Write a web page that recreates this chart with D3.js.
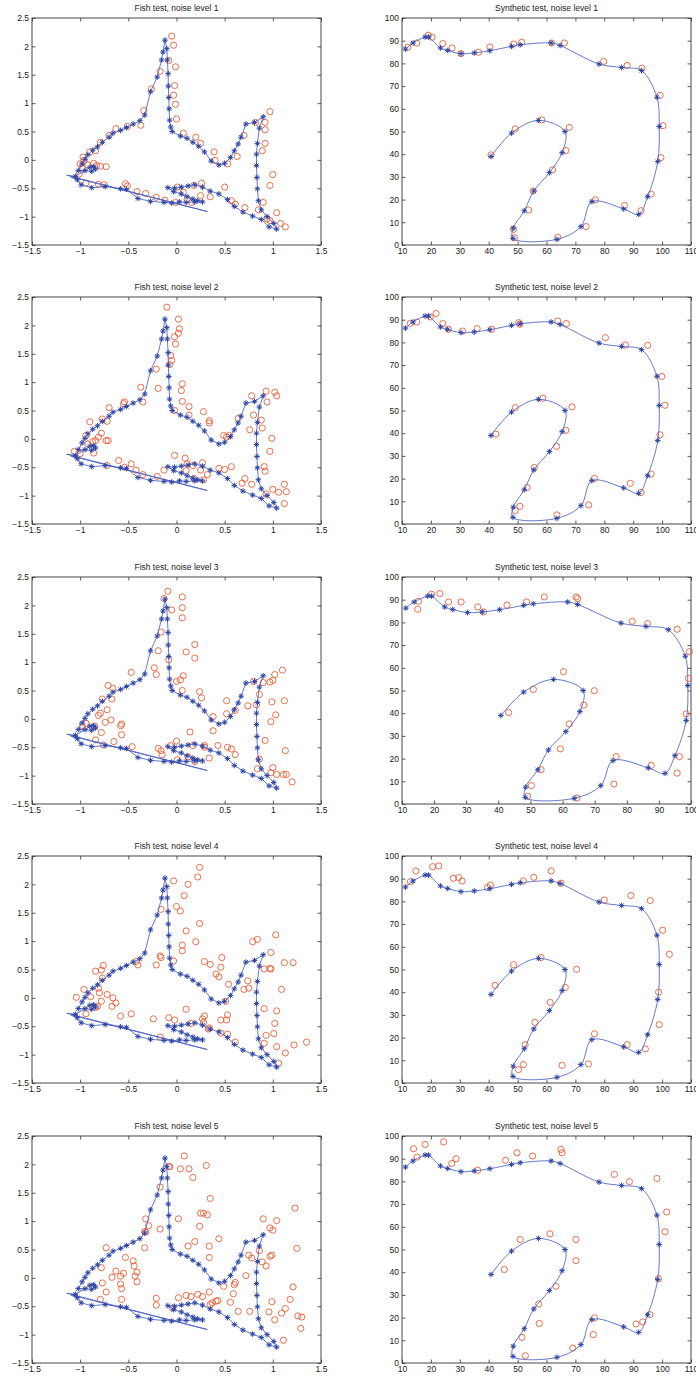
<!DOCTYPE html>
<html>
<head>
<meta charset="utf-8">
<script src="https://cdn.jsdelivr.net/npm/d3@7"></script>
<style>
body { margin: 0; background: #fff; }
text { font-family: "Liberation Sans", Arial, sans-serif; }
</style>
</head>
<body>
<div id="chart"></div>
<script>
var width = 696,
    height = 1378;

// ---- data ----
var titlesFish = ["Fish test, noise level 1", "Fish test, noise level 2", "Fish test, noise level 3",
                  "Fish test, noise level 4", "Fish test, noise level 5"];
var titlesSynth = ["Synthetic test, noise level 1", "Synthetic test, noise level 2", "Synthetic test, noise level 3",
                   "Synthetic test, noise level 4", "Synthetic test, noise level 5"];

var fishXTicks = [-1.5, -1, -0.5, 0, 0.5, 1, 1.5];
var fishYTicks = [-1.5, -1, -0.5, 0, 0.5, 1, 1.5, 2, 2.5];
var synthXTicks = [10, 20, 30, 40, 50, 60, 70, 80, 90, 100, 110];
var synthYTicks = [0, 10, 20, 30, 40, 50, 60, 70, 80, 90, 100];
var synthXEnd = [110, 110, 100, 110, 110];

// fitted fish outline: x, y, star marker (1) or plain vertex (0)
var fishCurve = [
  [-1.05,-0.29,1],[-0.95,-0.19,1],[-0.9,-0.13,1],[-0.86,-0.12,1],[-0.84,-0.16,1],[-0.88,-0.2,1],
  [-1.02,-0.19,1],[-0.98,-0.07,1],[-0.95,0.01,1],[-0.92,0.09,1],[-0.87,0.17,1],[-0.82,0.23,1],
  [-0.77,0.31,1],[-0.7,0.4,1],[-0.66,0.47,1],[-0.58,0.52,1],[-0.52,0.57,1],[-0.45,0.63,1],
  [-0.38,0.69,1],[-0.33,0.79,1],[-0.27,1.2,1],[-0.2,1.46,1],[-0.155,1.76,1],[-0.14,1.9,1],
  [-0.12,2.11,1],[-0.1,1.96,1],[-0.095,1.76,1],[-0.087,1.52,1],[-0.085,1.3,1],[-0.08,1.1,1],
  [-0.077,0.9,1],[-0.072,0.7,1],[-0.06,0.58,1],[-0.045,0.5,1],[0.04,0.42,1],[0.11,0.38,1],
  [0.17,0.31,1],[0.23,0.24,1],[0.29,0.14,1],[0.36,-0.02,1],[0.44,-0.09,1],[0.5,-0.06,1],
  [0.56,0.04,1],[0.6,0.16,1],[0.64,0.28,1],[0.67,0.4,1],[0.72,0.63,1],[0.81,0.66,1],
  [0.9,0.76,1],[0.86,0.56,1],[0.84,0.29,1],[0.83,0.1,1],[0.83,-0.1,1],[0.835,-0.31,1],
  [0.84,-0.51,1],[0.85,-0.72,1],[0.88,-0.88,1],[0.94,-1.0,1],[1.01,-1.12,1],[1.04,-1.22,1],
  [0.96,-1.18,1],[0.88,-1.05,1],[0.79,-0.99,1],[0.69,-0.92,1],[0.6,-0.82,1],[0.53,-0.7,1],
  [0.44,-0.6,1],[0.35,-0.55,1],[0.27,-0.48,1],[0.19,-0.44,1],[0.12,-0.46,1],[0.05,-0.48,1],
  [-0.02,-0.5,1],[-0.09,-0.49,1],[-0.03,-0.56,1],[0.05,-0.6,1],[0.11,-0.65,1],[0.17,-0.69,1],
  [0.22,-0.72,1],[0.27,-0.74,1],[0.19,-0.74,1],[0.1,-0.75,1],[0.03,-0.74,1],[-0.05,-0.76,1],
  [-0.13,-0.75,1],[-0.27,-0.73,1],[-0.4,-0.68,1],[-0.52,-0.52,1],[-0.58,-0.51,1],[-0.74,-0.47,1],
  [-0.88,-0.49,1],[-0.99,-0.44,1],[-1.03,-0.35,1],[-1.1,-0.3,0],[0.32,-0.91,0],[-1.14,-0.27,0],
  [-1.05,-0.29,0]
];

var fishNoise1 = [
  [-0.05,2.18],[-0.03,2.02],[-0.08,1.75],[-0.01,1.64],[-0.17,1.56],[-0.26,1.25],[-0.02,1.31],[-0.03,1.14],
  [-0.01,0.98],[-0.34,0.87],[0.0,0.72],[-0.37,0.61],[-0.51,0.59],[-0.63,0.55],[-0.70,0.43],[-0.79,0.31],
  [-0.84,0.16],[-0.90,0.14],[-0.97,0.05],[-1.0,-0.07],[-0.98,-0.13],[-0.86,-0.06],[-0.79,-0.11],[-0.73,-0.12],
  [0.07,0.47],[0.20,0.40],[0.25,0.29],[0.39,0.14],[0.40,-0.01],[0.53,-0.07],[0.63,0.06],[0.70,0.43],
  [0.82,0.66],[0.97,0.85],[0.92,0.66],[0.92,0.53],[0.92,0.29],[0.89,0.16],[1.0,-0.26],[0.97,-0.45],
  [0.90,-0.75],[0.85,-0.88],[1.04,-0.93],[0.97,-1.07],[1.08,-1.12],[1.13,-1.18],[0.94,-1.04],[0.71,-0.84],
  [0.61,-0.78],[0.57,-0.72],[0.50,-0.48],[0.35,-0.65],[0.25,-0.63],[0.26,-0.41],[0.18,-0.45],[0.07,-0.57],
  [0.01,-0.48],[0.16,-0.75],[0.11,-0.69],[-0.01,-0.75],[-0.12,-0.71],[-0.21,-0.66],[-0.32,-0.59],[-0.41,-0.56],
  [-0.53,-0.42],[-0.51,-0.46],[-0.75,-0.44],[-0.81,-0.43],[-0.94,-0.41],[-1.01,-0.25],[-0.92,-0.09],[-0.83,-0.1],
  [-0.96,-0.01]
];
var fishNoise2 = [
  [-0.10,2.32],[0.02,2.11],[0.03,1.94],[0.02,1.86],[-0.02,1.80],[-0.01,1.67],[-0.06,1.47],[-0.05,1.38],
  [-0.07,1.31],[-0.21,1.23],[-0.19,0.89],[-0.37,0.91],[0.06,0.97],[0.05,0.85],[0.06,0.66],[-0.35,0.65],
  [-0.54,0.65],[-0.55,0.62],[-0.70,0.55],[-0.77,0.35],[-0.72,0.31],[-0.90,0.30],[-0.78,0.10],[-0.81,0.03],
  [-0.84,-0.03],[-0.87,-0.05],[-0.94,0.06],[-0.71,-0.03],[-0.73,-0.03],[-0.86,-0.25],[-0.92,-0.09],[-1.06,-0.22],
  [-1.0,-0.26],[-0.02,0.50],[0.13,0.57],[0.13,0.42],[0.28,0.48],[0.34,0.32],[0.34,0.28],[0.49,0.06],
  [0.55,0.06],[0.52,0.03],[0.64,0.36],[0.78,0.76],[0.93,0.84],[1.02,0.82],[1.04,0.76],[0.94,0.65],
  [0.80,0.42],[0.88,0.33],[0.76,0.16],[0.89,0.19],[0.99,0.01],[0.97,-0.22],[0.91,-0.49],[0.92,-0.57],
  [1.0,-0.89],[1.06,-0.94],[1.12,-0.80],[1.14,-0.93],[1.12,-1.14],[0.93,-0.97],[0.71,-0.70],[0.68,-0.78],
  [0.78,-0.80],[0.57,-0.49],[0.50,-0.54],[0.44,-0.52],[0.27,-0.42],[0.32,-0.63],[0.25,-0.55],[0.28,-0.72],
  [0.17,-0.47],[0.11,-0.44],[0.09,-0.34],[-0.02,-0.29],[0.10,-0.56],[0.18,-0.70],[-0.13,-0.55],[-0.20,-0.66],
  [-0.35,-0.63],[-0.42,-0.55],[-0.47,-0.44],[-0.54,-0.50],[-0.60,-0.38],[-0.72,-0.47]
];
var fishNoise3 = [
  [-0.09,2.25],[-0.13,2.12],[0.06,2.15],[0.06,1.96],[-0.05,1.92],[0.06,1.78],[-0.16,1.53],[0.19,1.31],
  [0.10,1.18],[0.19,1.07],[-0.19,1.20],[-0.08,1.04],[-0.23,0.90],[-0.21,0.78],[-0.47,0.82],[0.07,0.76],
  [0.04,0.69],[0.0,0.66],[0.06,0.50],[0.24,0.48],[0.26,0.37],[-0.71,0.59],[-0.66,0.54],[-0.77,0.35],
  [-0.67,0.35],[-0.72,0.16],[-0.79,0.10],[-0.81,0.06],[-0.68,-0.02],[-0.74,-0.06],[-0.94,-0.08],[-0.98,-0.12],
  [-0.85,-0.13],[-0.78,-0.24],[-0.57,-0.09],[-0.58,-0.12],[-0.57,-0.28],[-0.84,-0.37],[-0.65,-0.40],[-0.46,-0.49],
  [-0.76,-0.46],[-0.19,-0.52],[-0.16,-0.56],[-0.15,-0.63],[0.0,-0.39],[0.14,-0.23],[-0.06,-0.47],[0.17,-0.47],
  [0.29,-0.47],[0.29,-0.50],[0.12,-0.67],[0.19,-0.75],[0.34,-0.69],[0.01,-0.72],[0.38,-0.21],[0.38,0.04],
  [0.43,-0.47],[0.53,-0.50],[0.57,-0.53],[0.61,-0.63],[0.52,0.32],[0.52,0.09],[0.61,0.15],[0.74,0.23],
  [0.83,0.25],[0.86,0.43],[0.90,0.64],[0.80,0.66],[0.97,0.65],[1.0,0.68],[1.02,0.78],[1.10,0.86],
  [0.99,0.30],[1.12,0.32],[1.03,0.07],[0.98,-0.05],[0.92,-0.38],[1.13,-0.56],[0.86,-0.71],[0.84,-0.88],
  [1.0,-0.86],[0.98,-0.95],[1.04,-0.98],[1.11,-0.98],[1.14,-0.98],[1.20,-1.11]
];
var fishNoise4 = [
  [0.24,2.30],[0.22,2.13],[-0.03,2.06],[0.12,2.00],[0.08,1.80],[0.0,1.61],[0.04,1.53],[-0.16,1.56],
  [0.24,1.31],[0.10,1.18],[0.20,0.99],[0.06,0.93],[0.06,0.83],[-0.17,0.74],[-0.16,0.71],[-0.03,0.65],
  [-0.21,0.58],[-0.42,0.64],[-0.40,0.58],[-0.76,0.57],[-0.78,0.49],[-0.84,0.47],[-0.77,0.35],[-0.81,0.17],
  [-0.96,0.15],[-0.80,0.09],[-0.72,0.06],[-0.66,0.0],[-0.67,-0.15],[-0.63,-0.09],[-1.04,0.01],[-0.89,0.02],
  [-0.78,-0.06],[-0.82,-0.15],[-0.94,-0.28],[-0.84,-0.17],[-0.58,-0.32],[-0.47,-0.28],[-0.24,-0.37],[-0.08,-0.35],
  [-0.02,-0.39],[0.10,-0.20],[0.15,-0.45],[0.29,-0.32],[0.27,-0.37],[0.28,-0.43],[0.46,-0.39],[0.53,-0.30],
  [0.52,-0.39],[0.53,-0.64],[0.46,-0.62],[0.61,-0.78],[0.44,0.37],[0.46,0.54],[0.47,0.71],[0.35,0.59],
  [0.29,0.64],[0.41,0.42],[0.54,0.24],[0.51,-0.06],[0.70,0.15],[0.74,0.30],[0.75,0.17],[0.79,0.99],
  [0.84,1.03],[1.03,1.11],[0.98,0.80],[0.91,0.51],[0.97,0.52],[0.98,0.51],[1.12,0.62],[1.21,0.62],
  [1.09,0.15],[0.91,-0.19],[1.04,-0.23],[1.02,-0.45],[1.01,-0.63],[0.93,-0.66],[0.91,-0.80],[1.04,-0.86],
  [1.13,-0.97],[1.22,-0.83],[1.35,-0.78],[1.06,-1.15],[0.34,-0.53],[-0.17,-0.69],[0.33,-0.55]
];
var fishNoise5 = [
  [0.08,2.15],[-0.07,1.96],[-0.08,1.96],[0.04,1.92],[0.13,1.92],[0.31,1.98],[0.17,1.77],[-0.17,1.60],
  [0.35,1.40],[0.25,1.14],[0.28,1.14],[0.32,1.11],[0.24,0.91],[0.02,1.04],[-0.32,1.04],[-0.29,0.92],
  [-0.17,0.86],[-0.33,0.81],[0.12,0.56],[0.19,0.64],[0.34,0.56],[0.44,0.69],[0.34,0.36],[-0.33,0.53],
  [-0.73,0.53],[-0.53,0.36],[-0.45,0.30],[-0.44,0.21],[-0.41,0.10],[-0.43,0.03],[-0.41,-0.07],[-0.63,0.12],
  [-0.55,0.08],[-0.58,0.03],[-0.67,0.01],[-0.58,-0.11],[-0.57,-0.19],[-0.78,0.18],[-0.77,-0.09],[-0.73,-0.25],
  [-0.79,-0.38],[-0.57,-0.38],[-0.21,-0.36],[-0.21,-0.48],[-0.04,-0.53],[0.02,-0.35],[0.10,-0.31],[0.15,-0.33],
  [0.22,-0.29],[0.27,-0.33],[0.34,-0.25],[0.37,-0.44],[0.35,-0.47],[0.41,-0.41],[0.43,-0.40],[0.49,-0.15],
  [0.60,-0.12],[0.61,-0.08],[0.59,-0.28],[0.56,-0.43],[0.64,-0.59],[0.76,-0.59],[0.72,0.04],[0.75,0.40],
  [0.78,0.35],[0.86,0.48],[0.90,1.04],[0.97,0.88],[1.04,1.01],[1.00,0.84],[1.23,1.23],[1.25,0.52],
  [0.97,0.38],[0.99,0.40],[0.93,0.21],[0.89,0.28],[1.21,-0.16],[1.18,-0.38],[1.13,-0.54],[1.09,-0.62],
  [0.99,-0.42],[0.96,-0.60],[1.02,-0.74],[1.26,-0.67],[1.30,-0.69],[1.29,-0.89],[1.11,-1.10],[-0.32,0.81]
];

// fitted synthetic curve (star at every vertex)
var synthCurve = [
  [11.2,86.3],[13.8,89.0],[18.0,91.6],[19.2,91.6],[23.3,86.8],[25.8,85.7],[30.4,84.3],[35.0,84.6],
  [40.4,85.6],[47.9,87.5],[50.9,88.2],[61.6,89.0],[64.7,87.9],[78.2,79.7],[86.0,78.2],[92.9,76.8],
  [98.2,65.1],[99.0,52.2],[98.5,36.8],[95.0,21.3],[91.9,13.5],[86.7,15.9],[75.7,19.1],[71.9,8.1],
  [63.6,2.5],[48.4,2.9],[48.5,7.4],[52.3,15.1],[55.6,23.8],[61.0,31.9],[65.4,40.7],[66.4,50.0],
  [57.2,54.9],[47.9,49.3],[40.8,39.0]
];

var synthNoise1 = [
  [12.0,87.1],[15.1,89.0],[19.1,92.4],[20.4,91.5],[24.1,88.7],[27.3,86.8],[30.4,84.3],[36.5,84.9],
  [40.4,87.2],[48.6,88.5],[51.4,89.3],[61.8,89.0],[66.2,89.0],[79.8,80.9],[87.9,79.1],[93.0,77.9],
  [99.3,65.9],[100.3,52.6],[99.6,38.5],[96.2,22.4],[92.7,15.1],[87.0,17.4],[76.9,19.9],[73.7,8.1],
  [63.9,3.4],[48.9,3.2],[48.6,6.9],[53.8,15.4],[55.4,23.8],[62.1,33.1],[66.7,41.6],[67.9,51.8],
  [58.4,55.1],[49.2,51.2],[40.8,39.7]
];
var synthNoise2 = [
  [12.9,88.4],[15.1,89.0],[19.8,91.2],[21.8,92.7],[24.1,88.3],[26.1,85.8],[31.0,85.0],[36.0,86.1],
  [41.0,85.8],[50.4,88.7],[50.8,88.0],[63.9,89.4],[66.9,88.3],[80.4,82.1],[87.3,78.9],[95.0,78.7],
  [99.9,65.0],[101.0,52.3],[99.3,39.3],[96.2,22.0],[92.7,13.9],[89.0,17.9],[76.6,20.1],[74.6,8.4],
  [63.6,4.0],[49.2,5.9],[50.8,7.8],[53.3,16.1],[55.8,24.9],[63.5,34.2],[66.7,41.3],[68.8,51.6],
  [58.7,55.4],[49.2,51.3],[42.5,39.6]
];
var synthNoise3 = [
  [15.1,89.3],[14.9,85.8],[19.2,92.4],[21.8,92.7],[24.5,89.0],[28.4,89.0],[33.6,86.8],[35.4,84.6],
  [42.7,87.6],[48.8,89.0],[54.3,91.2],[64.2,91.2],[64.7,90.5],[81.7,80.5],[86.5,79.5],[95.7,77.0],
  [99.5,67.1],[99.2,55.3],[98.5,39.7],[96.4,20.9],[95.7,13.6],[87.6,17.0],[76.7,20.9],[76.0,8.8],
  [64.5,2.6],[49.1,3.4],[50.3,8.1],[53.3,15.1],[59.3,24.3],[62.1,35.3],[66.6,43.6],[69.9,49.9],
  [60.3,58.3],[50.9,50.5],[43.2,40.3]
];
var synthNoise4 = [
  [12.9,88.7],[14.8,93.4],[20.6,95.3],[22.7,95.6],[27.8,90.2],[29.6,90.5],[30.8,89.0],[39.6,86.1],
  [40.6,87.2],[52.0,89.0],[55.6,90.6],[61.6,93.4],[65.0,88.0],[80.0,80.6],[89.2,82.6],[95.9,80.4],
  [100.2,67.3],[102.5,56.7],[98.8,40.0],[99.0,25.7],[94.2,15.0],[87.9,16.9],[76.6,21.7],[74.5,8.4],
  [65.4,7.8],[50.3,5.9],[52.0,8.1],[52.6,16.9],[56.0,26.7],[61.3,35.5],[66.5,42.1],[70.4,50.1],
  [58.1,55.3],[48.6,52.1],[42.2,43.0]
];
var synthNoise5 = [
  [14.0,94.4],[15.2,90.7],[18.0,96.3],[24.4,97.4],[28.7,90.0],[27.2,87.9],[36.2,84.9],[45.8,89.3],
  [49.8,92.6],[55.2,91.2],[65.0,94.1],[65.4,92.6],[83.5,83.1],[88.7,79.9],[98.2,81.3],[101.6,66.5],
  [101.0,57.8],[98.8,37.2],[95.8,21.3],[93.3,18.1],[91.0,17.2],[76.6,19.9],[76.2,12.5],[69.1,6.6],
  [52.7,3.2],[51.5,11.3],[57.5,17.4],[57.3,26.0],[63.3,33.8],[70.2,45.1],[70.2,54.4],[61.2,56.9],
  [50.9,54.4],[45.4,41.2]
];

var fishNoise = [fishNoise1, fishNoise2, fishNoise3, fishNoise4, fishNoise5];
var synthNoise = [synthNoise1, synthNoise2, synthNoise3, synthNoise4, synthNoise5];

// ---- layout ----
var rowTop = [18, 297, 577, 856, 1136];
var boxH = 227;
var colLeft = [32, 402];
var colRight = [321, 691];

var svg = d3.select("#chart")
    .append("svg")
    .attr("width", width)
    .attr("height", height);

var starPath = "M-2.8,0H2.8M0,-2.8V2.8M-2,-2L2,2M-2,2L2,-2";

function fmt(d) {
  return String(d).replace("-", "\u2212");
}

function drawPanel(left, right, top, xDomain, yDomain, xTicks, yTicks, title, line, stars, curve, noise) {
  var x = d3.scaleLinear().domain(xDomain).range([left, right]);
  var y = d3.scaleLinear().domain(yDomain).range([top + boxH, top]);
  var g = svg.append("g");

  // ticks point inward on all four sides, labels only bottom and left
  g.append("g").attr("transform", "translate(0," + (top + boxH) + ")")
      .call(d3.axisBottom(x).tickValues(xTicks).tickSize(-3.5).tickSizeOuter(0).tickPadding(2.6).tickFormat(fmt));
  g.append("g").attr("transform", "translate(" + left + ",0)")
      .call(d3.axisLeft(y).tickValues(yTicks).tickSize(-3.5).tickSizeOuter(0).tickPadding(3).tickFormat(fmt));
  g.append("g").attr("transform", "translate(0," + top + ")")
      .call(d3.axisTop(x).tickValues(xTicks).tickSize(-3.5).tickSizeOuter(0).tickFormat(""));
  g.append("g").attr("transform", "translate(" + right + ",0)")
      .call(d3.axisRight(y).tickValues(yTicks).tickSize(-3.5).tickSizeOuter(0).tickFormat(""));
  g.selectAll(".domain").remove();
  g.selectAll(".tick line").attr("stroke", "#333").attr("stroke-width", 0.8);
  g.selectAll(".tick text").attr("font-size", 8.5).attr("fill", "#1a1a1a")
      .attr("font-family", "\"Liberation Sans\", Arial, sans-serif");

  g.append("rect")
      .attr("x", left).attr("y", top)
      .attr("width", right - left).attr("height", boxH)
      .attr("fill", "none").attr("stroke", "#333").attr("stroke-width", 0.9);

  g.append("text")
      .attr("x", (left + right) / 2).attr("y", top - 7)
      .attr("text-anchor", "middle").attr("font-size", 8.5).attr("fill", "#1a1a1a")
      .text(title);

  // noisy observations
  g.selectAll(".obs").data(noise).enter().append("circle")
      .attr("cx", function(d) { return x(d[0]); })
      .attr("cy", function(d) { return y(d[1]); })
      .attr("r", 3.1)
      .attr("fill", "none")
      .attr("stroke", "#e8562c")
      .attr("stroke-width", 0.85);

  // fitted curve
  var lineGen = d3.line()
      .x(function(d) { return x(d[0]); })
      .y(function(d) { return y(d[1]); })
      .curve(curve);
  g.append("path").datum(line)
      .attr("d", lineGen)
      .attr("fill", "none")
      .attr("stroke", "#4a62c2")
      .attr("stroke-width", 0.85);

  g.selectAll(".star").data(stars).enter().append("path")
      .attr("d", starPath)
      .attr("transform", function(d) { return "translate(" + x(d[0]) + "," + y(d[1]) + ")"; })
      .attr("fill", "none")
      .attr("stroke", "#2d44a6")
      .attr("stroke-width", 1);
}

var fishLine = fishCurve.map(function(d) { return [d[0], d[1]]; });
var fishStars = fishCurve.filter(function(d) { return d[2] === 1; });

for (var i = 0; i < 5; i++) {
  drawPanel(colLeft[0], colRight[0], rowTop[i], [-1.5, 1.5], [-1.5, 2.5],
            fishXTicks, fishYTicks, titlesFish[i], fishLine, fishStars, d3.curveLinear, fishNoise[i]);
  var xEnd = synthXEnd[i];
  drawPanel(colLeft[1], colRight[1], rowTop[i], [10, xEnd], [0, 100],
            synthXTicks.filter(function(t) { return t <= xEnd; }), synthYTicks, titlesSynth[i],
            synthCurve, synthCurve, d3.curveCatmullRom.alpha(0.5), synthNoise[i]);
}
</script>
</body>
</html>
